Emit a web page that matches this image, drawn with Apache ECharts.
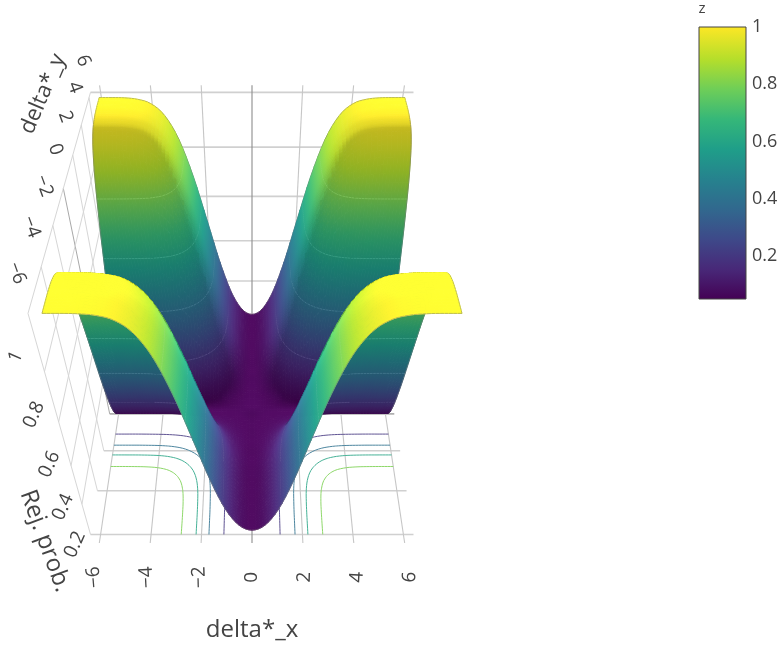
<!DOCTYPE html>
<html><head><meta charset="utf-8">
<style>html,body{margin:0;padding:0;background:#fff}#c{width:783px;height:645px}</style>
<script src="https://cdn.jsdelivr.net/npm/echarts@6/dist/echarts.min.js"></script>
</head><body><div id="c"></div>
<script>
// ---------- values ----------
const xTicks = [-6,-4,-2,0,2,4,6];
const yTicks = [-6,-4,-2,0,2,4,6];
const zTicks = [0.2,0.4,0.6,0.8,1];
const xTickLabels = ['\u22126','\u22124','\u22122','0','2','4','6'];
const yTickLabels = ['\u22126','\u22124','\u22122','0','2','4','6'];
const zTickLabels = ['0.2','0.4','0.6','0.8','1'];
const contourLevels = [0.2,0.4,0.6,0.8];
// |delta| grid (the surface is mirror-symmetric in both deltas)
const deltaAbs = [0,0.5,1,1.5,2,2.5,3,3.5,4,4.5,5,5.5,6];
// rows: |delta*_x|, columns: |delta*_y|
const rej00 = [.050,.048,.048,.048,.049,.049,.050,.050,.050,.050,.050,.050,.050];
const rej05 = [.048,.049,.052,.057,.063,.069,.074,.077,.078,.079,.079,.079,.079];
const rej10 = [.048,.052,.063,.083,.108,.132,.151,.162,.167,.169,.170,.170,.170];
const rej15 = [.048,.057,.083,.127,.183,.238,.280,.305,.317,.321,.323,.323,.323];
const rej20 = [.049,.063,.108,.183,.278,.371,.443,.486,.506,.513,.516,.516,.516];
const rej25 = [.049,.069,.132,.238,.371,.501,.602,.662,.691,.701,.704,.705,.705];
const rej30 = [.050,.074,.151,.280,.443,.602,.725,.799,.833,.846,.850,.851,.851];
const rej35 = [.050,.077,.162,.305,.486,.662,.799,.880,.918,.932,.937,.938,.938];
const rej40 = [.050,.078,.167,.317,.506,.691,.833,.918,.959,.973,.978,.979,.979];
const rej45 = [.050,.079,.169,.321,.513,.701,.846,.932,.973,.988,.993,.994,.994];
const rej50 = [.050,.079,.170,.323,.516,.704,.850,.937,.978,.993,.998,.999,.999];
const rej55 = [.050,.079,.170,.323,.516,.705,.851,.938,.979,.994,.999,1,1];
const rej60 = [.050,.079,.170,.323,.516,.705,.851,.938,.979,.994,.999,1,1];
const rejProb = [rej00,rej05,rej10,rej15,rej20,rej25,rej30,rej35,rej40,rej45,rej50,rej55,rej60];
const viridis = ['#440154','#482878','#3e4989','#31688e','#26828e','#1f9e89','#35b779','#6ece58','#b5de2b','#fde725'];
const viridisPos = [0,.11,.22,.33,.44,.55,.66,.77,.88,1];

// ---------- view of the 3D box ----------
const xHalf=6.4, yFront=-6, yBack=6.4, yMid=0.2, yHalf=6.2, zMin=0.024, zMax=1, zSpan=0.488;
const cam={cx:252,cy:313.4,ax:224,ay:153.3,w0:1.387,p:0.1935};
const camDist=cam.w0/(2*cam.p);
function project(x,y,z){
  const X=x/xHalf,Y=(y-yMid)/yHalf,Z=(z-zMin)/zSpan-1;
  const w=cam.w0+cam.p*Y-cam.p*Z;
  return {sx:cam.cx+cam.ax*X/w, sy:cam.cy-cam.ay*(Y+Z)/w, w};
}
function hex(c){return [parseInt(c.slice(1,3),16),parseInt(c.slice(3,5),16),parseInt(c.slice(5,7),16)];}
const vir=viridis.map(hex);
function colorAt(z){
  const t=Math.max(0,Math.min(1,(z-0.05)/0.95));
  let i=0; while(i<viridisPos.length-2&&t>viridisPos[i+1]) i++;
  const f=(t-viridisPos[i])/(viridisPos[i+1]-viridisPos[i]);
  return vir[i].map((v,k)=>v+(vir[i+1][k]-v)*f);
}
function rgb(c,a){const s=c.map(v=>Math.round(Math.max(0,Math.min(255,v)))).join(',');return a==null?`rgb(${s})`:`rgba(${s},${a})`;}

// ---------- surface mesh for display ----------
const SUB=4;
function tab(i,j){i=Math.max(-13,Math.min(13,i));j=Math.max(-13,Math.min(13,j));
  return rejProb[Math.min(12,Math.abs(i))][Math.min(12,Math.abs(j))];}
function cr(a,b,c,d,t){return b+0.5*t*(c-a+t*(2*a-5*b+4*c-d+t*(3*(b-c)+d-a)));}
function smooth(x,y){
  const u=x/0.5,v=y/0.5; const i=Math.min(11,Math.floor(u)),j=Math.min(11,Math.floor(v));
  const s=u-i,t=v-j; const r=[];
  for(let a=-1;a<=2;a++) r.push(cr(tab(i+a,j-1),tab(i+a,j),tab(i+a,j+1),tab(i+a,j+2),t));
  return Math.max(0.047,Math.min(1,cr(r[0],r[1],r[2],r[3],s)));
}
const N=24*SUB, gs=[]; for(let i=0;i<=N;i++) gs.push(-6+12*i/N);
const Zg=gs.map(x=>gs.map(y=>smooth(x,y)));
// vertex colour with the surface lighting
function vertexColor(i,j){
  const i0=Math.max(0,i-1),i1=Math.min(N,i+1),j0=Math.max(0,j-1),j1=Math.min(N,j+1);
  const dZx=(Zg[i1][j]-Zg[i0][j])/zSpan/((gs[i1]-gs[i0])/xHalf);
  const dZy=(Zg[i][j1]-Zg[i][j0])/zSpan/((gs[j1]-gs[j0])/yHalf);
  const nl=Math.hypot(dZx,dZy,1);
  let nx=-dZx/nl,ny=-dZy/nl,nz=1/nl;
  const Y=(gs[j]-yMid)/yHalf,Z=(Zg[i][j]-zMin)/zSpan-1;
  if(ny*(-camDist-Y)+nz*(camDist-Z)<0){nx=-nx;ny=-ny;nz=-nz;}
  const d=Math.max(0,Math.min(0.34,0.6*ny+0.32*nz+0.2*Math.pow(nx,4)*(nz>0?1:0)));
  const s=0.8+0.8*d;
  return colorAt(Zg[i][j]).map(v=>v*s+30*d);
}
const Cg=gs.map((_,i)=>gs.map((_,j)=>vertexColor(i,j)));
function crossing(corners,lev){
  const pts=[];
  for(let k=0;k<4;k++){const a=corners[k],b=corners[(k+1)%4];
    if((a[2]-lev)*(b[2]-lev)<0){const f=(lev-a[2])/(b[2]-a[2]);pts.push([a[0]+(b[0]-a[0])*f,a[1]+(b[1]-a[1])*f]);}}
  return pts.length>=2?pts:null;
}
function mix(a,b){return [(a[0]+b[0])/2,(a[1]+b[1])/2,(a[2]+b[2])/2];}
function cdiff(a,b){return Math.abs(a[0]-b[0])+Math.abs(a[1]-b[1])+Math.abs(a[2]-b[2]);}
const EDGE='rgba(120,120,120,0.55)';
const cells=[], floorSegs=[];
for(let i=0;i<N;i++)for(let j=0;j<N;j++){
  const c=[[gs[i],gs[j],Zg[i][j]],[gs[i+1],gs[j],Zg[i+1][j]],[gs[i+1],gs[j+1],Zg[i+1][j+1]],[gs[i],gs[j+1],Zg[i][j+1]]];
  const pr=c.map(p=>project(p[0],p[1],p[2]));
  const vc=[Cg[i][j],Cg[i+1][j],Cg[i+1][j+1],Cg[i][j+1]];
  const segs=[];
  contourLevels.forEach(lev=>{
    const q=crossing(c,lev);
    if(q){
      const a=project(q[0][0],q[0][1],lev),b=project(q[1][0],q[1][1],lev);
      segs.push([a.sx,a.sy,b.sx,b.sy,rgb(colorAt(lev).map(v=>v+(255-v)*0.25),0.45)]);
      const fa=project(q[0][0],q[0][1],zMin),fb=project(q[1][0],q[1][1],zMin);
      floorSegs.push([fa.sx,fa.sy,fb.sx,fb.sy,lev]);
    }
  });
  if(j===0) segs.push([pr[0].sx,pr[0].sy,pr[1].sx,pr[1].sy,EDGE]);
  if(j===N-1) segs.push([pr[3].sx,pr[3].sy,pr[2].sx,pr[2].sy,EDGE]);
  if(i===0) segs.push([pr[0].sx,pr[0].sy,pr[3].sx,pr[3].sy,EDGE]);
  if(i===N-1) segs.push([pr[1].sx,pr[1].sy,pr[2].sx,pr[2].sy,EDGE]);
  // screen gradient across the cell, along whichever direction its colour changes most
  const cA=mix(vc[0],vc[3]),cB=mix(vc[1],vc[2]),cC=mix(vc[0],vc[1]),cD=mix(vc[3],vc[2]);
  const useI=cdiff(cA,cB)>=cdiff(cC,cD);
  const P=k=>[pr[k].sx,pr[k].sy];
  const mp=(a,b)=>[(P(a)[0]+P(b)[0])/2,(P(a)[1]+P(b)[1])/2];
  const g=useI?[mp(0,3),mp(1,2),cA,cB]:[mp(0,1),mp(3,2),cC,cD];
  cells.push({pts:pr.map(p=>[p.sx,p.sy]),g,segs,w:(pr[0].w+pr[1].w+pr[2].w+pr[3].w)/4});
}
cells.sort((a,b)=>b.w-a.w);

// ---------- box grid ----------
const gridLines=[];
function gl(a,b,color,width){const p=project(...a),q=project(...b);gridLines.push([p.sx,p.sy,q.sx,q.sy,color,width]);}
const ROW='#d0d0d0', ZERO='#8c8c8c', THIN='#c6c6c6';
// left wall
yTicks.forEach(y=>gl([-xHalf,y,zMin],[-xHalf,y,zMax],y===0?'#a8a8a8':'#d6d6d6',1));
zTicks.forEach(z=>gl([-xHalf,yFront,z],[-xHalf,yBack,z],'#d6d6d6',1));
// floor
yTicks.forEach(y=>gl([-xHalf,y,zMin],[xHalf,y,zMin],y===0?'#b0b0b0':ROW,1.6));
xTicks.forEach(x=>gl([x,-6.37,zMin],[x,yBack,zMin],x===0?ZERO:THIN,1.1));
// back wall
zTicks.forEach(z=>gl([-xHalf,yBack,z],[xHalf,yBack,z],ROW,1.6));
xTicks.forEach(x=>gl([x,yBack,zMin],[x,yBack,1.024],x===0?ZERO:THIN,1.1));

// ---------- text ----------
const FONT='"Open Sans"';
const texts=[];
function txt(s,x,y,rotDeg,size){texts.push([s,x,y,rotDeg*Math.PI/180,size]);}
xTicks.forEach((x,i)=>{const p=project(x,-7.8,zMin);txt(xTickLabels[i],p.sx,p.sy,90-x*0.8,19);});
yTicks.forEach((y,i)=>{const p=project(-xHalf,y,zMin+zSpan*2.25);txt(yTickLabels[i],p.sx,p.sy,-70,19);});
zTicks.forEach((z,i)=>{const p=project(-xHalf,-7.67,z);txt(zTickLabels[i],p.sx,p.sy,66,19);});
txt('delta*_y',43,94,67,22);
txt('Rej. prob.',45,541,-70,24);
txt('delta*_x',252,630,0,24);

const chart=echarts.init(document.getElementById('c'),null,{renderer:'canvas'});
const idx=a=>a.map((_,i)=>[i,0]);
function polyline(api,l,color,width){
  const a=api.coord([l[0],l[1]]),b=api.coord([l[2],l[3]]);
  return {type:'line',shape:{x1:a[0],y1:a[1],x2:b[0],y2:b[1]},style:{stroke:color,lineWidth:width,fill:null}};
}
const baseSeries={type:'custom',coordinateSystem:'cartesian2d',xAxisIndex:0,yAxisIndex:0,clip:false,silent:true,animation:false,progressive:0};
chart.setOption({
  animation:false,
  backgroundColor:'#fff',
  textStyle:{fontFamily:FONT},
  grid:[{left:0,top:0,width:783,height:645,containLabel:false},{left:699,top:27,width:47,height:272,containLabel:false}],
  xAxis:[{type:'value',min:0,max:783,show:false,gridIndex:0},{type:'value',min:0,max:1,show:false,gridIndex:1}],
  yAxis:[{type:'value',min:0,max:645,inverse:true,show:false,gridIndex:0},
    {type:'value',gridIndex:1,position:'right',min:0.05,max:1,scale:true,
     splitLine:{show:false},axisLine:{show:false},
     axisTick:{show:true,length:5,customValues:zTicks,lineStyle:{color:'#444',width:1}},
     axisLabel:{show:true,customValues:zTicks,margin:6,color:'#444',fontSize:18,fontFamily:FONT,formatter:v=>String(+v.toFixed(1))}}],
  series:[
   Object.assign({},baseSeries,{z:1,data:idx(gridLines),renderItem:(p,api)=>{const l=gridLines[p.dataIndex];return polyline(api,l,l[4],l[5]);}}),
   Object.assign({},baseSeries,{z:2,data:idx(floorSegs),renderItem:(p,api)=>{const l=floorSegs[p.dataIndex];
      const c=colorAt(l[4]).map(v=>v+(255-v)*0.15);return polyline(api,l,rgb(c),1);}}),
   Object.assign({},baseSeries,{z:3,data:idx(cells),renderItem:(p,api)=>{
      const c=cells[p.dataIndex];
      const a=api.coord(c.g[0]),b=api.coord(c.g[1]);
      const fill={type:'linear',x:a[0],y:a[1],x2:b[0],y2:b[1],global:true,colorStops:[{offset:0,color:rgb(c.g[2])},{offset:1,color:rgb(c.g[3])}]};
      const poly={type:'polygon',shape:{points:c.pts.map(q=>api.coord(q))},style:{fill:fill,stroke:fill,lineWidth:1}};
      if(!c.segs.length) return poly;
      return {type:'group',children:[poly].concat(c.segs.map(l=>polyline(api,l,l[4],0.9)))};
   }}),
   Object.assign({},baseSeries,{z:4,data:idx(texts),renderItem:(p,api)=>{
      const t=texts[p.dataIndex];const a=api.coord([t[1],t[2]]);
      return {type:'text',x:a[0],y:a[1],rotation:t[3],style:{text:t[0],x:0,y:0,fill:'#444',font:`${t[4]}px ${FONT}`,align:'center',verticalAlign:'middle'}};
   }}),
   Object.assign({},baseSeries,{xAxisIndex:1,yAxisIndex:1,z:5,data:[[0,0.05]],renderItem:(p,api)=>{
      const a=api.coord([0,0.05]),b=api.coord([1,1]);
      const stops=viridis.map((c,i)=>({offset:viridisPos[i],color:c}));
      return {type:'group',children:[
       {type:'rect',shape:{x:a[0],y:b[1],width:b[0]-a[0],height:a[1]-b[1]},
        style:{fill:{type:'linear',x:0,y:1,x2:0,y2:0,colorStops:stops},stroke:'#444',lineWidth:1}},
       {type:'text',x:a[0]+3,y:b[1]-18,style:{text:'z',x:0,y:0,fill:'#444',font:`15px ${FONT}`,align:'center',verticalAlign:'middle'}}]};
   }})
  ]
});
</script></body></html>
